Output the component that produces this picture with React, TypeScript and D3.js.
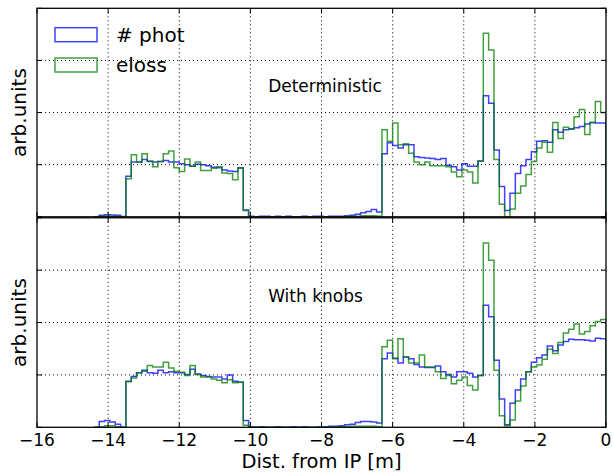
import React from "react";
import * as d3 from "d3";

// Histogram binning: 96 bins of 0.15 m from -14.4 m to 0 m
const binStart = -14.4;
const binWidth = 0.15;

// Top panel (Deterministic)
const detPhot = [
  0, 0.03, 0.04, 0.035, 0.03, 0.005,
  0.78, 1.05, 1.05, 1.1, 1.06, 1.05, 1.06, 1.08, 1.05, 1.05, 1.02, 1.0, 0.97, 1.01, 1.0, 0.98, 0.95, 0.94, 0.9, 0.88, 0.87, 0.94,
  0.13,
  0.01, 0, 0.01, 0.01, 0, 0.01, 0, 0.01, 0, 0, 0.01, 0, 0.01, 0.01, 0, 0.01,
  0.01, 0.01, 0.02, 0.03, 0.05, 0.08, 0.1, 0.14, 0.09,
  1.21, 1.42, 1.37, 1.32, 1.38, 1.38, 1.15, 1.14, 1.13, 1.12, 1.1, 1.12, 0.99, 0.96, 0.9, 1.02, 0.97, 0.97, 1.07, 2.32, 2.18, 1.28, 0.58, 0.12, 0.45, 0.83,
  0.98, 1.1, 1.25, 1.45, 1.46, 1.43, 1.67, 1.62, 1.67, 1.69, 1.71, 1.73, 1.78, 1.81, 1.8, 1.8,
];
const detEloss = [
  0, 0.01, 0.01, 0.01, 0.01, 0,
  0.73, 1.19, 1.05, 1.21, 1.07, 0.96, 1.06, 1.21, 1.26, 0.94, 0.87, 1.11, 0.97, 1.05, 0.89, 0.89, 0.93, 0.96, 0.84, 0.83, 0.71, 0.93,
  0.12,
  0, 0, 0, 0, 0, 0, 0, 0, 0, 0, 0, 0, 0, 0, 0, 0,
  0, 0, 0.01, 0.01, 0.01, 0.02, 0.02, 0.02, 0.01,
  1.67, 1.45, 1.8, 1.38, 1.4, 1.22, 1.05, 1.0, 1.05, 0.98, 0.98, 0.98, 0.96, 0.86, 0.77, 0.9, 0.86, 0.65, 1.07, 3.52, 3.2, 1.1, 0.24, 0.0, 0.15, 0.45,
  0.59, 0.81, 1.06, 1.32, 1.43, 1.24, 1.81, 1.5, 1.72, 1.68, 1.92, 2.06, 1.58, 1.81, 2.21, 2.0,
];

// Bottom panel (With knobs)
const knobPhot = [
  0, 0.11, 0.13, 0.1, 0.06, 0,
  0.88, 0.97, 1.04, 1.09, 1.04, 1.03, 1.09, 1.04, 1.06, 1.04, 1.04, 1.01, 1.11, 1.02, 0.99, 0.97, 0.96, 0.96, 0.92, 1.0, 0.88, 0.86,
  0.13,
  0.01, 0, 0.01, 0, 0, 0.01, 0, 0, 0.01, 0, 0.01, 0, 0, 0.01, 0.01, 0.02, 0.02,
  0.03, 0.05, 0.06, 0.09, 0.11, 0.11, 0.1, 0.08,
  1.31, 1.42, 1.32, 1.23, 1.34, 1.31, 1.2, 1.15, 1.14, 1.14, 1.17, 1.06, 1.01, 0.96, 1.06, 1.06, 1.03, 0.96, 0.99, 2.33, 2.11, 1.28, 0.54, 0.05, 0.46, 0.71,
  0.92, 1.06, 1.24, 1.33, 1.38, 1.55, 1.46, 1.57, 1.64, 1.68, 1.67, 1.67, 1.66, 1.65, 1.7, 1.69,
];
const knobEloss = [
  0, 0.01, 0.03, 0.03, 0.01, 0,
  0.87, 0.94, 1.04, 1.07, 1.18, 1.15, 1.15, 1.24, 1.13, 1.07, 1.05, 0.99, 1.18, 1.01, 0.96, 0.96, 0.92, 0.9, 0.85, 0.91, 0.85, 0.86,
  0.04,
  0, 0, 0, 0, 0, 0, 0, 0, 0, 0, 0, 0, 0, 0, 0, 0, 0.01,
  0.01, 0.01, 0.02, 0.02, 0.02, 0.02, 0.02, 0.01,
  1.54, 1.66, 1.31, 1.69, 1.34, 1.23, 1.23, 1.38, 1.15, 1.15, 1.06, 0.93, 0.99, 0.83, 0.9, 0.96, 0.8, 0.71, 0.99, 3.52, 3.19, 1.09, 0.22, 0.03, 0.14, 0.5,
  0.79, 1.06, 1.15, 1.19, 1.3, 1.49, 1.41, 1.62, 1.8, 1.87, 1.97, 1.78, 1.83, 1.94, 2.02, 2.06,
];

const xTicks = [-16, -14, -12, -10, -8, -6, -4, -2, 0];
const yTicks = [0, 1, 2, 3, 4];
const seriesNames = ["# phot", "eloss"];
const panelTitles = ["Deterministic", "With knobs"];
const xLabel = "Dist. from IP [m]";
const yLabel = "arb.units";

const BLUE = "#0000ff";
const GREEN = "#008000";
const FONT = "'DejaVu Sans', Verdana, sans-serif";

const W = 613;
const H = 474;
const left = 37;
const right = 606;

const x = d3.scaleLinear().domain([-16, 0]).range([left, right]);

const panels = [
  { top: 8.3, bottom: 216.8, phot: detPhot, eloss: detEloss, title: panelTitles[0], titleY: 91.7 },
  { top: 217.8, bottom: 427.3, phot: knobPhot, eloss: knobEloss, title: panelTitles[1], titleY: 302.3 },
];

function stepPath(values: number[], y: d3.ScaleLinear<number, number>) {
  const pts: [number, number][] = [];
  pts.push([binStart, 0]);
  values.forEach((v, i) => {
    const e0 = binStart + i * binWidth;
    const e1 = binStart + (i + 1) * binWidth;
    pts.push([e0, v]);
    pts.push([e1, v]);
  });
  pts.push([binStart + values.length * binWidth, 0]);
  const line = d3
    .line<[number, number]>()
    .x((d) => x(d[0]))
    .y((d) => y(d[1]));
  return line(pts) || "";
}

export default function App() {
  return (
    <svg
      width={W}
      height={H}
      viewBox={`0 0 ${W} ${H}`}
      style={{ position: "absolute", left: 0, top: 0, background: "#fff" }}
      fontFamily={FONT}
    >
      <rect x={0} y={0} width={W} height={H} fill="#fff" />
      <defs>
        {panels.map((p, pi) => (
          <clipPath id={`clip${pi}`} key={pi}>
            <rect x={left} y={p.top} width={right - left} height={p.bottom - p.top} />
          </clipPath>
        ))}
      </defs>
      {panels.map((p, pi) => {
        const y = d3.scaleLinear().domain([0, 4]).range([p.bottom, p.top]);
        return (
          <g key={pi}>
            {/* grid */}
            {xTicks.slice(1, -1).map((t) => (
              <line
                key={`gx${t}`}
                x1={x(t)}
                x2={x(t)}
                y1={p.top}
                y2={p.bottom}
                stroke="#000"
                strokeWidth={1}
                strokeDasharray="1,3"
              />
            ))}
            {yTicks.slice(1, -1).map((t) => (
              <line
                key={`gy${t}`}
                x1={left}
                x2={right}
                y1={y(t)}
                y2={y(t)}
                stroke="#000"
                strokeWidth={1}
                strokeDasharray="1,3"
              />
            ))}
            {/* histograms */}
            <g clipPath={`url(#clip${pi})`}>
              <path d={stepPath(p.phot, y)} fill="none" stroke={BLUE} strokeOpacity={0.75} strokeWidth={1.5} />
              <path d={stepPath(p.eloss, y)} fill="none" stroke={GREEN} strokeOpacity={0.75} strokeWidth={1.5} />
            </g>
            {/* ticks */}
            {xTicks.map((t) => (
              <g key={`tx${t}`}>
                <line x1={x(t)} x2={x(t)} y1={p.bottom} y2={p.bottom - 5} stroke="#000" strokeWidth={1} />
                <line x1={x(t)} x2={x(t)} y1={p.top} y2={p.top + 5} stroke="#000" strokeWidth={1} />
              </g>
            ))}
            {yTicks.map((t) => (
              <g key={`ty${t}`}>
                <line x1={left} x2={left + 5} y1={y(t)} y2={y(t)} stroke="#000" strokeWidth={1} />
                <line x1={right} x2={right - 5} y1={y(t)} y2={y(t)} stroke="#000" strokeWidth={1} />
              </g>
            ))}
            {/* frame */}
            <rect
              x={left}
              y={p.top}
              width={right - left}
              height={p.bottom - p.top}
              fill="none"
              stroke="#000"
              strokeWidth={1.3}
            />
            {/* panel title */}
            <text x={x(-9.5)} y={p.titleY} fontSize={17} fill="#000">
              {p.title}
            </text>
            {/* y label */}
            <text
              transform={`translate(26,${(p.top + p.bottom) / 2}) rotate(-90)`}
              textAnchor="middle"
              fontSize={20}
              fill="#000"
            >
              {yLabel}
            </text>
          </g>
        );
      })}
      {/* x tick labels */}
      {xTicks.map((t) => (
        <text key={`xl${t}`} x={x(t)} y={445.5} textAnchor="middle" fontSize={17} fill="#000">
          {t < 0 ? `\u2212${Math.abs(t)}` : `${t}`}
        </text>
      ))}
      <text x={(left + right) / 2} y={468} textAnchor="middle" fontSize={19.5} fill="#000">
        {xLabel}
      </text>
      {/* legend */}
      <rect x={55} y={27.7} width={42} height={14} fill="none" stroke={BLUE} strokeOpacity={0.75} strokeWidth={1.5} />
      <rect x={55} y={58} width={42} height={14} fill="none" stroke={GREEN} strokeOpacity={0.75} strokeWidth={1.5} />
      <text x={116} y={42.3} fontSize={20} fill="#000">
        {seriesNames[0]}
      </text>
      <text x={116} y={72.3} fontSize={20} fill="#000">
        {seriesNames[1]}
      </text>
    </svg>
  );
}
